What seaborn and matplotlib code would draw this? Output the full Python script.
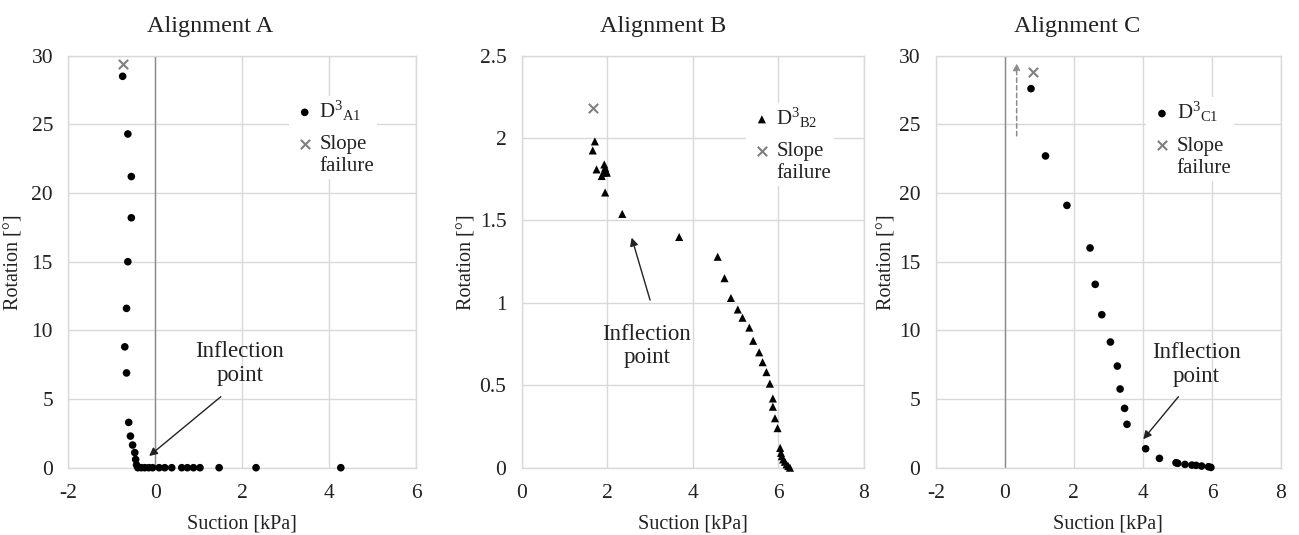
import matplotlib
matplotlib.use("Agg")
import matplotlib.pyplot as plt
import seaborn as sns
import numpy as np

# ---------------- data ----------------
titles = ["Alignment A", "Alignment B", "Alignment C"]
series_labels = [r"D$^{3}{}_{\mathrm{A1}}$", r"D$^{3}{}_{\mathrm{B2}}$", r"D$^{3}{}_{\mathrm{C1}}$"]
failure_label = "Slope\nfailure"

A_suction = [-0.75, -0.63, -0.55, -0.55, -0.63, -0.66, -0.70, -0.66, -0.61, -0.57,
             -0.52, -0.47, -0.45, -0.43,
             -0.40, -0.32, -0.24, -0.15, -0.06, 0.09, 0.22, 0.38, 0.61, 0.74,
             0.88, 1.03, 1.47, 2.32, 4.27]
A_rotation = [28.5, 24.3, 21.2, 18.2, 15.0, 11.6, 8.8, 6.9, 3.3, 2.3,
              1.65, 1.1, 0.6, 0.2,
              0, 0, 0, 0, 0, 0, 0, 0, 0, 0,
              0, 0, 0, 0, 0]
A_fail_suction = [-0.75]
A_fail_rotation = [29.4]

B_suction = [1.71, 1.66, 1.75, 1.93, 1.95, 1.97, 1.91, 1.87, 1.99, 1.95,
             2.35, 3.68, 4.58, 4.74, 4.89, 5.05, 5.16, 5.32, 5.41, 5.55,
             5.63, 5.72, 5.80, 5.87, 5.87, 5.92, 5.98, 6.04, 6.06, 6.08,
             6.11, 6.15, 6.19, 6.23, 6.27]
B_rotation = [1.98, 1.925, 1.81, 1.84, 1.82, 1.80, 1.79, 1.77, 1.79, 1.67,
              1.54, 1.40, 1.28, 1.15, 1.03, 0.96, 0.91, 0.85, 0.77, 0.70,
              0.64, 0.58, 0.51, 0.42, 0.37, 0.30, 0.24, 0.12, 0.09, 0.07,
              0.05, 0.036, 0.02, 0.01, 0.0]
B_fail_suction = [1.66]
B_fail_rotation = [2.18]

C_suction = [0.76, 1.18, 1.80, 2.47, 2.62, 2.81, 3.06, 3.26, 3.34, 3.47,
             3.54, 4.08, 4.48, 4.96, 5.01, 5.22, 5.42, 5.54, 5.70, 5.90, 5.97]
C_rotation = [27.6, 22.7, 19.1, 16.0, 13.35, 11.14, 9.15, 7.4, 5.73, 4.32,
              3.16, 1.38, 0.68, 0.36, 0.32, 0.24, 0.19, 0.17, 0.12, 0.07, 0.02]
C_fail_suction = [0.81]
C_fail_rotation = [28.8]
C_arrow_x = 0.345
C_arrow_y = [24.16, 29.45]

xlims = [(-2, 6), (0, 8), (-2, 8)]
ylims = [(0, 30), (0, 2.5), (0, 30)]
xticks = [[-2, 0, 2, 4, 6], [0, 2, 4, 6, 8], [-2, 0, 2, 4, 6, 8]]
yticks = [[0, 5, 10, 15, 20, 25, 30], [0, 0.5, 1, 1.5, 2, 2.5], [0, 5, 10, 15, 20, 25, 30]]
ytick_labels = [["0", "5", "10", "15", "20", "25", "30"],
                ["0", "0.5", "1", "1.5", "2", "2.5"],
                ["0", "5", "10", "15", "20", "25", "30"]]
markers = ["o", "^", "o"]

# annotation: text position, arrow tail, arrow head (data coords)
infl_text = [(1.95, 7.6), (2.92, 0.738), (5.54, 7.5)]
infl_tail = [(1.51, 5.17), (3.0, 1.017), (5.03, 5.17)]
infl_head = [(-0.14, 0.85), (2.57, 1.396), (4.01, 2.07)]

legend_anchor = [(0.635, 0.903), (0.656, 0.886), (0.610, 0.900)]
ylabel_x = [-0.130, -0.131, -0.113]

# ---------------- style ----------------
sns.set_theme(style="white")
plt.rcParams["font.family"] = ["Liberation Serif", "DejaVu Serif"]
plt.rcParams["mathtext.fontset"] = "custom"
plt.rcParams["mathtext.rm"] = "Liberation Serif"
plt.rcParams["mathtext.it"] = "Liberation Serif:italic"
plt.rcParams["mathtext.bf"] = "Liberation Serif:bold"
plt.rcParams["axes.unicode_minus"] = False

TXT = "#222222"
GRID = "#d9d9d9"

fig = plt.figure(figsize=(12.99, 5.35), dpi=100)
W, H = 1299, 535
boxes_px = [(68.3, 416.0), (521.7, 864.0), (935.7, 1281.0)]
top_px, bot_px = 55.7, 467.7

datasets = [
    (A_suction, A_rotation, A_fail_suction, A_fail_rotation),
    (B_suction, B_rotation, B_fail_suction, B_fail_rotation),
    (C_suction, C_rotation, C_fail_suction, C_fail_rotation),
]

for i, (l, r) in enumerate(boxes_px):
    ax = fig.add_axes([l / W, 1 - bot_px / H, (r - l) / W, (bot_px - top_px) / H])
    xs, ys, fx, fy = datasets[i]
    ax.set_xlim(*xlims[i])
    ax.set_ylim(*ylims[i])
    ax.set_xticks(xticks[i])
    ax.set_yticks(yticks[i])
    ax.set_yticklabels(ytick_labels[i])
    ax.grid(True, color=GRID, lw=1.0)
    ax.set_axisbelow(True)
    for s in ax.spines.values():
        s.set_color(GRID)
        s.set_linewidth(1.0)
    if xlims[i][0] < 0:
        ax.axvline(0, color="#8c8c8c", lw=1.0, zorder=1)
    ax.tick_params(axis="both", length=0, labelsize=15.5, colors=TXT)
    ax.tick_params(axis="x", pad=12)
    ax.tick_params(axis="y", pad=11)

    msize = 30 if markers[i] == "o" else 34
    sns.scatterplot(x=xs, y=ys, ax=ax, marker=markers[i], color="black", s=msize,
                    edgecolor="none", linewidth=0, label=series_labels[i],
                    clip_on=False, zorder=3)
    sns.scatterplot(x=fx, y=fy, ax=ax, marker="x", color="#7f7f7f", s=45,
                    linewidth=1.5, label=failure_label, clip_on=False, zorder=3)

    if i == 2:
        ax.annotate("", xy=(C_arrow_x, C_arrow_y[1]), xytext=(C_arrow_x, C_arrow_y[0]),
                    arrowprops=dict(arrowstyle="-|>", color="#8c8c8c", lw=1.1,
                                    linestyle=(0, (3, 2)), mutation_scale=10,
                                    shrinkA=0, shrinkB=0))

    ax.annotate("", xy=infl_head[i], xytext=infl_tail[i],
                arrowprops=dict(arrowstyle="-|>", color="#222222", lw=1.0,
                                mutation_scale=12, shrinkA=0, shrinkB=0))
    ax.text(infl_text[i][0], infl_text[i][1], "Inflection\npoint", ha="center",
            va="center", fontsize=16.5, color=TXT, linespacing=1.15)

    ax.set_xlabel("Suction [kPa]", fontsize=14.5, color=TXT, labelpad=8)
    ax.set_ylabel("Rotation [°]", fontsize=14.5, color=TXT)
    ax.yaxis.set_label_coords(ylabel_x[i], 0.5)

    leg = ax.legend(loc="upper left", bbox_to_anchor=legend_anchor[i], frameon=True,
                    facecolor="white", edgecolor="none", framealpha=1.0, fontsize=15,
                    handletextpad=0.1, borderpad=0.15, labelspacing=0.6,
                    handlelength=1.2, borderaxespad=0)
    for t in leg.get_texts():
        t.set_color(TXT)
    # align the failure marker with the first line of its two-line label
    hnd = leg.legend_handles[1]
    off = np.asarray(hnd.get_offsets(), dtype=float)
    off[:, 1] += 9.5
    hnd.set_offsets(off)

    tcx = l + 141.7
    fig.text(tcx / W, 1 - 32 / H, titles[i], ha="center", va="baseline",
             fontsize=17.5, color=TXT)

fig.savefig("out.png", dpi=100)
